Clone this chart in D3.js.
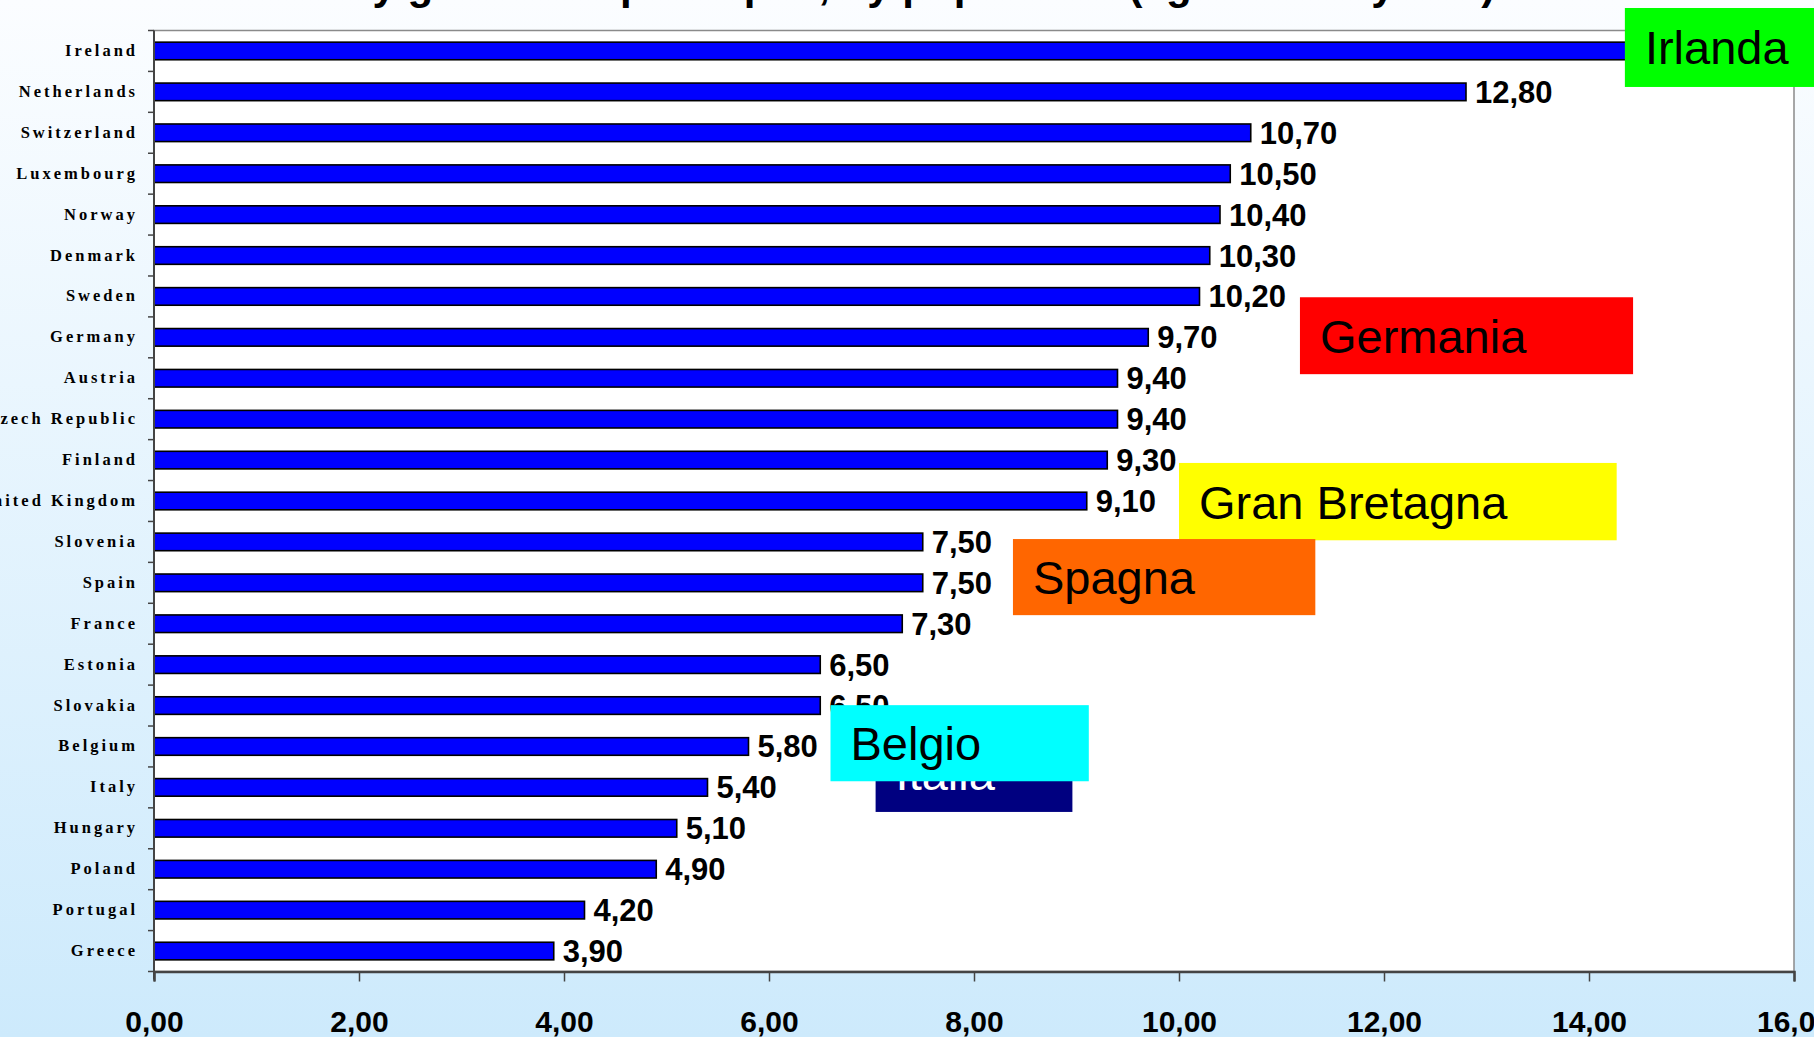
<!DOCTYPE html>
<html>
<head>
<meta charset="utf-8">
<script src="https://cdn.jsdelivr.net/npm/d3@7"></script>
<style>
  html, body { margin: 0; padding: 0; overflow: hidden; }
</style>
</head>
<body>
<div id="chart"></div>
<script>
// chart data
const countries = ["Ireland", "Netherlands", "Switzerland", "Luxembourg", "Norway", "Denmark",
  "Sweden", "Germany", "Austria", "Czech Republic", "Finland", "United Kingdom", "Slovenia",
  "Spain", "France", "Estonia", "Slovakia", "Belgium", "Italy", "Hungary", "Poland",
  "Portugal", "Greece"];
const values = [14.5, 12.8, 10.7, 10.5, 10.4, 10.3, 10.2, 9.7, 9.4, 9.4, 9.3, 9.1, 7.5,
  7.5, 7.3, 6.5, 6.5, 5.8, 5.4, 5.1, 4.9, 4.2, 3.9];
const xTicks = [0, 2, 4, 6, 8, 10, 12, 14, 16];

// callout boxes (in value units / row units)
const calloutLabels = ["Irlanda", "Germania", "Gran Bretagna", "Spagna", "Italia", "Belgio"];
const calloutFills  = ["#00ff00", "#ff0000", "#ffff00", "#ff6600", "#000080", "#00ffff"];
const calloutInk    = ["#000", "#000", "#000", "#000", "#fff", "#000"];
const calloutX = [[14.35, 16.3], [11.18, 14.43], [10.0, 14.27], [8.38, 11.33], [7.04, 8.96], [6.6, 9.12]];
const calloutRows = [[-0.55, 1.38], [6.52, 8.4], [10.57, 12.46], [12.43, 14.29], [17.2, 19.1], [16.49, 18.35]];

const width = 1814, height = 1037;
const margin = { top: 30.5, right: 20, bottom: 65.5, left: 154 };
const plotW = 1640, plotH = height - margin.top - margin.bottom;

const svg = d3.select("#chart").append("svg")
  .attr("width", width).attr("height", height)
  .style("display", "block")
  .style("font-family", "'Liberation Sans', Arial, sans-serif");

const grad = svg.append("defs").append("linearGradient")
  .attr("id", "bg").attr("x1", 0).attr("y1", 0).attr("x2", 0).attr("y2", 1);
grad.append("stop").attr("offset", "0%").attr("stop-color", "#fbfdff");
grad.append("stop").attr("offset", "100%").attr("stop-color", "#cdeafc");
svg.append("rect").attr("width", width).attr("height", height).attr("fill", "url(#bg)");

// title (mostly out of frame)
svg.append("text")
  .attr("x", 870).attr("y", -1)
  .attr("text-anchor", "middle")
  .attr("font-size", 42).attr("font-weight", "bold")
  .text("Tertiary graduates per capita, by population (aged 20-29 years)");

const x = d3.scaleLinear().domain([0, 16]).range([0, plotW]);
const y = d3.scaleBand().domain(countries).range([0, plotH]).paddingInner(0.57).paddingOuter(0.285);
const rowY = d3.scaleLinear().domain([0, countries.length]).range([0, plotH]);

const g = svg.append("g").attr("transform", `translate(${margin.left},${margin.top})`);

g.append("rect").attr("width", plotW).attr("height", plotH)
  .attr("fill", "#fff").attr("stroke", "#8a8a8a").attr("stroke-width", 1.5);

// bars
g.selectAll("rect.bar").data(values).enter().append("rect")
  .attr("class", "bar")
  .attr("x", 0)
  .attr("y", (d, i) => y(countries[i]))
  .attr("width", d => x(d))
  .attr("height", y.bandwidth())
  .attr("fill", "#0000ff")
  .attr("stroke", "#000").attr("stroke-width", 1.6);

// value labels
g.selectAll("text.val").data(values).enter().append("text")
  .attr("class", "val")
  .attr("x", d => x(d) + 9)
  .attr("y", (d, i) => y(countries[i]) + y.bandwidth() / 2 + 11)
  .attr("font-size", 31).attr("font-weight", "bold")
  .text(d => d.toFixed(2).replace(".", ","));

// left axis: ticks on band boundaries
g.append("line").attr("x1", 0).attr("x2", 0).attr("y1", 0).attr("y2", plotH + 8)
  .attr("stroke", "#444").attr("stroke-width", 2);
g.selectAll("line.ytick").data(d3.range(countries.length + 1)).enter().append("line")
  .attr("x1", -6).attr("x2", 0)
  .attr("y1", d => rowY(d)).attr("y2", d => rowY(d))
  .attr("stroke", "#444").attr("stroke-width", 1.5);
g.selectAll("text.cat").data(countries).enter().append("text")
  .attr("class", "cat")
  .attr("x", -16)
  .attr("y", d => y(d) + y.bandwidth() / 2 + 5)
  .attr("text-anchor", "end")
  .attr("font-family", "'Liberation Serif', 'Times New Roman', serif")
  .attr("font-weight", "bold").attr("font-size", 16.5)
  .attr("letter-spacing", 3)
  .text(d => d);

// bottom axis
const xAxis = g.append("g").attr("transform", `translate(0,${plotH})`)
  .call(d3.axisBottom(x).tickValues(xTicks).tickSize(10).tickFormat(d => d.toFixed(2).replace(".", ",")));
xAxis.select(".domain").attr("stroke", "#444").attr("stroke-width", 2.5);
xAxis.selectAll(".tick line").attr("stroke", "#444").attr("stroke-width", 1.5);
xAxis.selectAll(".tick text")
  .attr("y", 0).attr("dy", 0)
  .attr("transform", "translate(0,60)")
  .attr("fill", "#000")
  .attr("font-family", "'Liberation Sans', Arial, sans-serif")
  .attr("font-size", 30).attr("font-weight", "bold");

// callout boxes
calloutLabels.forEach((label, i) => {
  const x0 = x(calloutX[i][0]), x1 = x(calloutX[i][1]);
  const y0 = rowY(calloutRows[i][0]), y1 = rowY(calloutRows[i][1]);
  g.append("rect").attr("x", x0).attr("y", y0)
    .attr("width", x1 - x0).attr("height", y1 - y0)
    .attr("fill", calloutFills[i]);
  g.append("text").attr("x", x0 + 20).attr("y", (y0 + y1) / 2 + 17)
    .attr("font-size", 47).attr("fill", calloutInk[i])
    .text(label);
});
</script>
</body>
</html>
